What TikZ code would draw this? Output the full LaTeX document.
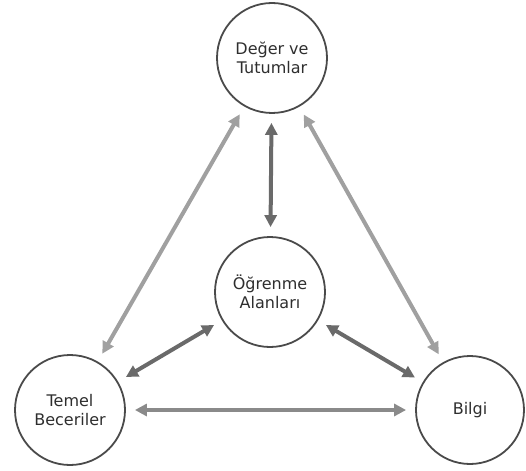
\documentclass[tikz,border=0pt]{standalone}
\usepackage{fontspec}
\setmainfont{DejaVu Sans}
\usetikzlibrary{arrows.meta}
\definecolor{circline}{HTML}{4A4A4A}
\definecolor{lightarr}{HTML}{A0A0A0}
\definecolor{darkarr}{HTML}{6A6A6A}
\definecolor{midarr}{HTML}{8A8A8A}
\definecolor{txt}{HTML}{2E2E2E}
\begin{document}
\begin{tikzpicture}[x=1pt,y=-1pt,
  concept/.style={circle,draw=circline,line width=1.8pt,minimum size=110pt,inner sep=0pt,align=center,text=txt,font=\fontsize{16}{19}\selectfont},
  link/.style={line width=4pt,{Triangle[length=12pt,width=12pt]}-{Triangle[length=12pt,width=12pt]},shorten <=9pt,shorten >=9pt}]
\useasboundingbox (0,0) rectangle (526,470);
\node[concept] (T) at (272,58) {Değer ve\\Tutumlar};
\node[concept] (M) at (270,292) {Öğrenme\\Alanları};
\node[concept] (L) at (70,410) {Temel\\Beceriler};
\node[concept,minimum size=108pt] (B) at (470,410) {Bilgi};
\draw[link,lightarr] (T) -- (L);
\draw[link,lightarr] (T) -- (B);
\draw[link,darkarr] (T) -- (M);
\draw[link,darkarr] (M) -- (L);
\draw[link,darkarr] (M) -- (B);
\draw[link,midarr] (L) -- (B);
\end{tikzpicture}
\end{document}
